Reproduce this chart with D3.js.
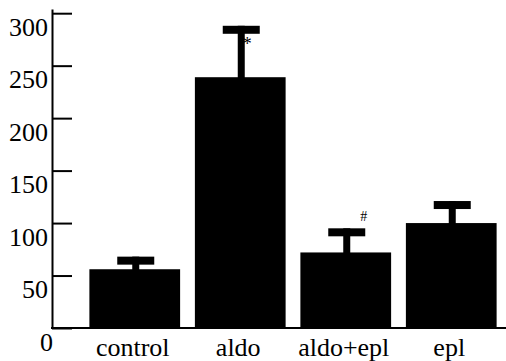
<!DOCTYPE html>
<html>
<head>
    <title>Bar chart with error bars</title>
    <script src="https://d3js.org/d3.v7.min.js"></script>
    <style>
        svg text { font-family: "Times New Roman", "Liberation Serif", Times, serif !important; }
    </style>
</head>
<body style="margin:0">
    <svg width="506" height="361" font-family="Times New Roman"></svg>
    <script>
        const categories = ['control', 'aldo', 'aldo+epl', 'epl'];
        const values = [56, 239, 72, 100];
        const errors = [12, 49, 23, 21];
        const marks = ['', '*', '#', ''];
        const yTicks = [0, 50, 100, 150, 200, 250, 300];

        const svg = d3.select('svg');

        const x = d3.scaleBand()
            .domain(categories)
            .range([82, 504])
            .paddingInner(0.14)
            .paddingOuter(0.07);

        const y = d3.scaleLinear()
            .domain([0, 304])
            .range([328, 9]);

        // Bars
        svg.selectAll('.bar')
            .data(categories)
            .enter()
            .append('rect')
            .attr('class', 'bar')
            .attr('x', d => x(d))
            .attr('width', x.bandwidth())
            .attr('y', (d, i) => y(values[i]))
            .attr('height', (d, i) => y(0) - y(values[i]))
            .attr('fill', '#000');

        // Error bars: stem + cap
        const cx = d => x(d) + x.bandwidth() / 2 + 1;
        svg.selectAll('.stem')
            .data(categories)
            .enter()
            .append('rect')
            .attr('x', d => cx(d) - 3.5)
            .attr('width', 7)
            .attr('y', (d, i) => y(values[i] + errors[i]))
            .attr('height', (d, i) => y(values[i]) - y(values[i] + errors[i]) + 1)
            .attr('fill', '#000');

        svg.selectAll('.cap')
            .data(categories)
            .enter()
            .append('rect')
            .attr('x', d => cx(d) - 18.5)
            .attr('width', 37)
            .attr('y', (d, i) => y(values[i] + errors[i]))
            .attr('height', 8)
            .attr('fill', '#000');

        // Significance marks
        svg.selectAll('.mark')
            .data(categories)
            .enter()
            .append('text')
            .attr('x', d => cx(d) + (d === 'aldo' ? 6 : 17))
            .attr('y', (d, i) => d === 'aldo'
                ? y(values[i] + errors[i]) + 24
                : y(values[i] + errors[i]) - 7)
            .attr('text-anchor', 'middle')
            .attr('font-size', d => d === 'aldo' ? 18 : 14)
            .text((d, i) => marks[i]);

        // Y axis: ticks inside, labels pushed down
        const yAxis = svg.append('g')
            .attr('transform', 'translate(52,0)')
            .call(d3.axisLeft(y).tickValues(yTicks).tickSize(-20).tickSizeOuter(0).tickPadding(4));
        yAxis.attr('font-family', null).attr('font-size', 26);
        yAxis.selectAll('path, line').attr('stroke', '#000').attr('stroke-width', 2);
        yAxis.selectAll('text')
            .attr('fill', '#000')
            .attr('dy', 22)
            .attr('x', d => d === 0 ? 1 : -4);

        // X axis line
        svg.append('line')
            .attr('x1', 51)
            .attr('x2', 506)
            .attr('y1', y(0))
            .attr('y2', y(0))
            .attr('stroke', '#000')
            .attr('stroke-width', 2);

        // Category labels
        svg.selectAll('.cat')
            .data(categories)
            .enter()
            .append('text')
            .attr('x', d => x(d) + x.bandwidth() / 2 - 2)
            .attr('y', 356)
            .attr('text-anchor', 'middle')
            .attr('font-size', 26)
            .text(d => d);
    </script>
</body>
</html>
